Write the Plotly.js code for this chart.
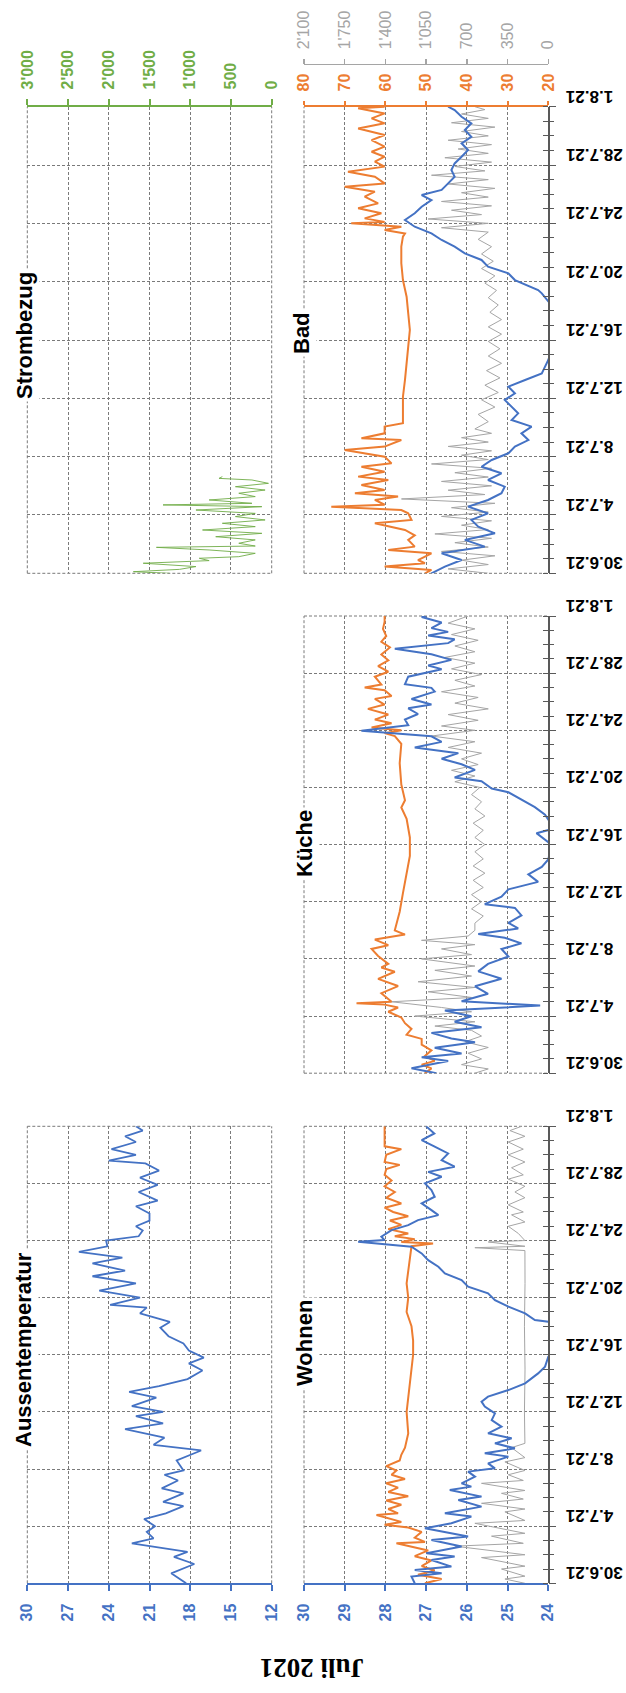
<!DOCTYPE html>
<html><head><meta charset="utf-8">
<script src="https://cdn.plot.ly/plotly-3.0.1.min.js"></script>
<style>html,body{margin:0;padding:0;background:#fff;} #chart{width:626px;height:1693px;}</style>
</head><body><div id="chart"></div>
<script>
// ---------- DATA: [day offset from 30.6.2021 00:00, value] ----------
const aussenTemp = [[0,18.3],[0.7,19.4],[1.35,17.7],[1.85,19.2],[2.2,18.2],[2.8,22.3],[3.15,20.7],[3.6,21.2],[4.0,20.6],[4.5,21.4],[4.9,19.8],[5.4,18.5],[5.7,20.0],[6.3,18.5],[6.65,20.1],[7.2,18.9],[7.6,19.9],[7.9,18.5],[8.6,19.0],[9.3,17.2],[9.7,20.7],[10.2,19.9],[10.8,22.8],[11.2,20.0],[11.7,22.0],[12.0,20.0],[12.4,22.3],[13.0,20.5],[13.4,22.5],[13.8,20.3],[14.3,18.2],[14.9,17.1],[15.4,18.1],[15.8,17.0],[16.3,18.1],[16.8,18.5],[17.3,19.6],[17.9,20.2],[18.3,19.5],[18.9,21.7],[19.3,21.2],[19.5,23.9],[20.0,21.7],[20.5,24.7],[21.0,22.0],[21.5,25.2],[21.9,22.8],[22.4,25.2],[22.8,23.0],[23.2,26.2],[23.6,24.1],[24.0,24.2],[24.3,21.8],[24.7,21.5],[25.0,22.0],[25.4,21.0],[25.9,21.0],[26.4,22.0],[26.8,20.4],[27.4,21.8],[27.9,20.4],[28.4,21.7],[28.9,20.3],[29.4,21.3],[29.6,24.0],[30.0,22.0],[30.4,23.8],[30.9,22.0],[31.3,22.8],[31.7,21.5],[32.0,22.0]];

const stromBezug = [[0,1253],[0.11,1698],[0.27,1132],[0.46,930],[0.69,1577],[0.87,768],[1.03,889],[1.14,404],[1.37,202],[1.6,768],[1.78,1415],[1.87,202],[2.06,404],[2.29,202],[2.51,687],[2.74,121],[2.97,849],[3.2,202],[3.43,606],[3.66,81],[3.89,445],[4.11,202],[4.34,930],[4.57,121],[4.69,1334],[4.8,243],[5.03,768],[5.26,202],[5.49,404],[5.71,81],[5.94,445],[6.17,40],[6.4,243],[6.51,647],[6.63,606]];

const wohnenTemp = [[0,27.28],[0.47,27.36],[0.70,26.62],[0.93,27.28],[1.17,26.38],[1.63,26.87],[1.87,26.30],[2.10,26.99],[2.57,26.13],[3.03,26.87],[3.27,25.97],[3.62,26.62],[3.85,27.03],[4.20,26.38],[4.67,25.89],[4.90,26.54],[5.37,25.64],[5.83,26.21],[6.07,25.64],[6.53,26.42],[6.77,25.89],[7.00,26.13],[7.47,25.80],[7.82,25.97],[8.05,25.31],[8.40,25.48],[8.87,24.98],[9.10,25.56],[9.45,24.82],[9.80,25.31],[10.15,24.90],[10.50,25.48],[10.97,25.15],[11.43,25.39],[11.90,25.31],[12.37,25.56],[12.72,25.64],[13.07,25.48],[13.53,24.98],[14.00,24.57],[14.70,24.25],[15.17,24.08],[15.87,24.0],[16.5,23.8],[17.5,23.7],[18.32,24.0],[18.43,24.33],[18.90,24.57],[19.37,24.98],[19.83,25.31],[20.30,25.48],[20.77,25.97],[21.23,26.13],[21.70,26.54],[22.17,26.70],[22.63,26.95],[23.10,27.11],[23.57,27.36],[23.92,28.67],[24.03,28.02],[24.27,28.10],[24.73,27.85],[25.08,27.44],[25.43,27.20],[25.78,26.70],[26.13,26.87],[26.60,27.11],[27.07,26.79],[27.53,26.87],[28.00,27.03],[28.47,26.62],[28.81,26.95],[29.17,26.30],[29.63,26.62],[30.10,26.46],[30.57,26.79],[31.03,27.11],[31.5,26.8],[32,27.0]];
const wohnenHum = [[0,50.3],[0.3,46.2],[0.6,52.0],[0.9,47.9],[1.2,51.1],[1.6,48.7],[1.9,52.8],[2.3,49.5],[2.8,57.3],[2.9,50.3],[3.2,52.8],[3.6,51.1],[3.9,54.4],[4.1,60.2],[4.3,56.1],[4.78,62.2],[4.9,56.9],[5.2,59.3],[5.5,56.1],[5.8,59.8],[6.1,54.4],[6.4,59.3],[6.7,56.9],[7.0,59.8],[7.3,55.2],[7.6,58.5],[7.9,57.3],[8.2,59.8],[8.6,56.5],[9.0,56.1],[9.5,55.2],[10,54.8],[10.5,54.4],[12,54.8],[14,54.0],[16,53.2],[17,53.2],[18,53.6],[19,54.8],[20,54.4],[21,54.8],[22,54.4],[23,54.0],[23.6,53.6],[23.8,48.3],[23.9,56.1],[24.1,52.8],[24.3,57.7],[24.5,54.4],[24.8,59.3],[25.1,56.1],[25.4,58.9],[25.7,54.4],[26.0,58.1],[26.3,60.2],[26.6,56.1],[27.0,59.8],[27.4,57.7],[27.8,60.2],[28.2,58.5],[28.6,60.2],[29.0,59.8],[29.3,56.5],[29.5,60.2],[30.0,59.8],[30.4,56.1],[30.6,60.2],[31,60.2],[31.5,60.2],[32,60.2]];
const wohnenCO2 = [[0,201],[0.3,373],[0.5,201],[1.0,402],[1.2,201],[1.8,574],[2.0,201],[2.6,803],[2.8,215],[3.3,488],[3.5,201],[4.2,631],[4.4,201],[5.0,373],[5.2,201],[5.6,574],[5.9,215],[6.3,402],[6.5,201],[7.0,574],[7.2,215],[7.6,344],[7.9,201],[8.5,373],[8.8,201],[9.5,316],[9.8,201],[12,205],[15,200],[18,205],[21,200],[23.3,201],[23.5,631],[23.6,201],[23.9,516],[24.0,201],[24.5,258],[25,344],[25.3,201],[25.8,316],[26,215],[26.5,344],[27,201],[27.4,287],[27.8,201],[28.3,344],[28.6,215],[29.1,316],[29.5,201],[30,344],[30.4,215],[30.9,344],[31.3,201],[31.7,330],[32,230]];

const kuecheTemp = [[0,26.75],[0.34,27.36],[0.86,26.46],[1.12,27.11],[1.38,26.13],[1.78,26.79],[2.17,25.80],[2.43,26.38],[2.82,26.87],[3.21,25.64],[3.60,26.30],[3.99,25.89],[4.39,26.54],[4.73,24.20],[5.04,26.13],[5.56,25.48],[6.08,25.80],[6.61,25.15],[7.13,25.72],[7.65,25.48],[8.17,24.98],[8.69,25.15],[9.09,24.66],[9.48,25.07],[9.74,25.72],[10.13,24.74],[10.52,24.98],[11.04,24.66],[11.57,24.82],[11.83,25.56],[12.35,25.15],[12.87,24.98],[13.39,24.25],[13.92,24.49],[14.44,24.16],[14.96,24.0],[15.48,23.96],[16.0,23.92],[16.8,24.29],[17.05,23.96],[17.57,23.96],[18.09,24.08],[18.62,24.33],[19.14,24.66],[19.66,24.98],[19.92,25.39],[20.44,25.64],[20.70,26.30],[21.23,25.80],[21.62,26.13],[22.01,26.62],[22.40,26.21],[22.79,27.28],[23.19,26.62],[23.58,26.87],[23.97,28.59],[24.36,27.44],[24.75,27.52],[25.14,27.20],[25.54,27.44],[25.80,26.87],[26.19,27.36],[26.71,26.79],[26.97,26.87],[27.23,27.52],[27.75,27.44],[28.28,26.62],[28.54,26.95],[28.93,26.38],[29.32,26.87],[29.71,27.77],[30.10,26.46],[30.37,26.30],[30.63,26.95],[30.89,26.46],[31.15,26.87],[31.54,26.62],[31.93,27.11],[32,27.0]];
const kuecheHum = [[0,50.3],[0.34,48.7],[0.6,51.1],[0.86,47.9],[1.2,50.3],[1.6,48.7],[2.0,51.1],[2.4,51.1],[2.7,54.8],[3.1,53.6],[3.5,55.2],[3.9,56.1],[4.3,59.3],[4.6,56.9],[4.8,60.2],[4.9,67.1],[5.0,58.5],[5.6,61.0],[6.1,56.9],[6.6,61.8],[7.1,57.7],[7.4,61.0],[7.65,59.3],[8.2,61.8],[8.7,63.4],[8.96,59.3],[9.35,62.6],[9.7,55.2],[10.0,57.7],[11.3,56.5],[12.6,55.7],[13.9,54.8],[15.2,54.0],[16.5,54.0],[17.05,54.4],[17.8,54.8],[18.6,56.1],[19.1,55.2],[20.2,56.1],[21.7,56.5],[23.05,56.1],[23.6,57.7],[23.8,60.2],[24.0,56.1],[24.2,63.4],[24.5,58.5],[24.75,62.6],[25.1,59.3],[25.5,64.3],[25.8,60.2],[26.2,62.6],[26.4,58.5],[26.8,60.2],[27.0,65.1],[27.2,61.0],[27.75,62.6],[28.1,59.3],[28.5,61.8],[28.9,59.3],[29.3,61.0],[29.8,58.9],[30.2,61.0],[30.6,59.8],[31.1,60.6],[31.6,60.2],[32,60.2]];
const kuecheCO2 = [[0,631],[0.3,516],[0.6,746],[1.0,574],[1.4,689],[1.8,516],[2.2,717],[2.6,574],[3.0,660],[3.3,975],[3.6,631],[4.0,1148],[4.3,660],[4.6,918],[5.0,1348],[5.3,660],[5.7,1033],[6.0,631],[6.4,1119],[6.8,660],[7.2,975],[7.5,631],[8.0,1090],[8.3,660],[8.7,918],[9.0,631],[9.3,1090],[9.6,689],[10.0,631],[10.5,631],[11,559],[11.5,660],[12,574],[12.5,660],[13,559],[13.5,646],[14,545],[14.5,646],[15,559],[15.5,631],[16,545],[16.5,631],[17,559],[17.5,646],[18,545],[18.5,631],[19,574],[19.5,660],[20,588],[20.4,803],[20.8,631],[21.2,832],[21.6,603],[22,746],[22.4,574],[22.8,861],[23.2,631],[23.6,1004],[24.0,631],[24.3,918],[24.7,603],[25.1,861],[25.5,516],[25.9,803],[26.3,603],[26.7,918],[27.1,631],[27.5,803],[27.9,574],[28.3,832],[28.7,631],[29.1,889],[29.5,631],[29.9,803],[30.3,603],[30.7,832],[31.1,631],[31.5,861],[32,689]];

const badTemp = [[0,26.87],[0.46,26.54],[0.91,26.13],[1.37,26.62],[1.83,25.56],[2.29,26.05],[2.74,25.31],[3.2,25.72],[3.66,25.89],[4.11,25.48],[4.57,25.97],[5.03,25.48],[5.49,25.15],[5.94,25.07],[6.4,25.48],[6.86,25.15],[7.31,25.64],[7.77,25.39],[8.23,24.98],[8.69,24.82],[9.14,24.49],[9.6,24.66],[10.06,24.41],[10.51,24.90],[10.97,24.74],[11.43,24.90],[11.89,25.07],[12.34,24.82],[12.8,24.98],[13.26,24.57],[13.71,24.16],[14.17,24.08],[14.63,24.0],[15.5,23.9],[17.0,23.8],[18.3,23.9],[19.2,24.16],[19.43,24.25],[20.11,24.82],[20.57,24.98],[21.03,25.48],[21.49,25.64],[21.94,26.05],[22.4,26.30],[22.86,26.62],[23.31,26.87],[23.77,27.28],[24.23,27.52],[24.69,27.28],[25.14,27.11],[25.6,26.87],[25.94,27.11],[26.29,26.62],[26.74,26.46],[27.2,26.30],[27.66,26.38],[28.11,26.30],[28.57,26.13],[29.03,25.97],[29.49,26.13],[29.94,25.89],[30.4,26.05],[30.86,25.89],[31.31,26.13],[31.77,26.30],[32,26.46]];
const badHum = [[0,50.3],[0.23,48.7],[0.46,60.2],[0.69,50.3],[0.91,52.0],[1.37,48.7],[1.6,59.3],[1.83,52.8],[2.29,54.4],[2.6,52.8],[2.97,55.2],[3.43,62.6],[3.66,53.6],[4.11,54.4],[4.34,56.1],[4.57,73.3],[4.7,60.2],[5.03,62.6],[5.26,56.9],[5.49,67.5],[5.71,60.2],[6.06,65.9],[6.4,59.3],[6.63,66.7],[6.97,60.2],[7.31,65.9],[7.54,58.5],[8.0,60.2],[8.46,70.0],[8.69,60.2],[9.14,56.1],[9.26,65.9],[9.6,60.2],[10.06,60.2],[10.29,55.7],[10.97,55.7],[12.11,55.7],[13.26,55.2],[14.4,54.8],[15.54,54.4],[16.69,54.0],[17.83,54.4],[18.97,54.8],[20.11,55.7],[21.26,56.1],[22.4,56.1],[23.09,55.7],[23.31,55.2],[23.54,60.2],[23.77,56.1],[24.0,68.4],[24.1,60.2],[24.34,65.1],[24.69,61.0],[25.03,66.7],[25.37,61.8],[25.83,65.1],[26.17,62.6],[26.51,70.0],[26.74,60.2],[27.2,62.6],[27.54,69.2],[27.89,60.2],[28.23,62.6],[28.57,60.2],[28.91,63.4],[29.26,60.2],[29.71,63.4],[30.06,60.2],[30.51,66.7],[30.86,60.2],[31.2,63.4],[31.54,60.2],[31.89,66.7],[32,60.2]];
const badCO2 = [[0,516],[0.3,861],[0.6,516],[0.9,746],[1.2,459],[1.5,918],[1.8,516],[2.1,803],[2.4,488],[2.7,975],[3.0,516],[3.3,746],[3.6,488],[3.9,918],[4.2,516],[4.5,832],[4.8,459],[5.1,1262],[5.4,545],[5.7,861],[6.0,488],[6.3,918],[6.6,516],[6.9,803],[7.2,488],[7.5,1004],[7.8,516],[8.1,746],[8.4,488],[8.7,861],[9.0,516],[9.3,746],[9.6,488],[9.9,631],[10.4,516],[10.9,603],[11.4,459],[11.9,574],[12.4,430],[12.9,545],[13.4,416],[13.9,531],[14.4,402],[14.9,516],[15.4,416],[15.9,516],[16.4,402],[16.9,516],[17.4,402],[17.9,502],[18.4,430],[18.9,516],[19.4,445],[19.9,545],[20.4,459],[20.9,574],[21.4,473],[21.9,574],[22.4,488],[22.9,603],[23.4,516],[23.7,918],[24.0,516],[24.3,1033],[24.6,574],[24.9,832],[25.2,488],[25.5,918],[25.8,516],[26.1,746],[26.4,459],[26.7,861],[27.0,516],[27.3,1004],[27.6,545],[27.9,803],[28.2,488],[28.5,889],[28.8,516],[29.1,775],[29.4,488],[29.7,861],[30.0,516],[30.3,746],[30.6,459],[30.9,832],[31.2,516],[31.5,746],[31.8,545],[32,631]];

const panelTitles = ['Aussentemperatur','Wohnen','Küche','Strombezug','Bad'];
const mainTitle = 'Juli 2021';

// ---------- STYLE / GEOMETRY ----------
const BLUE='#4472C4', ORANGE='#ED7D31', GRAY='#A5A5A5', GREEN='#70AD47';
const GRID='#7a7a7a', DASH='3px,2px', AX='#595959';
const FONT='"Liberation Sans", Arial, sans-serif';
const T0=Date.UTC(2021,5,30), DAY=86400000;
const D0='2021-06-30', D1='2021-08-01';
const W=626, H=1693;
const px=v=>v/W, py=v=>1-v/H;
const colL=[px(27.3),px(271.7)], colR=[px(304),px(548.3)];
const rowTop=[py(573.3),py(106.7)], rowMid=[py(1073.2),py(616)], rowBot=[py(1583.3),py(1126.3)];

function line(pairs, xa, ya, color, width){
  return {type:'scatter', mode:'lines', x:pairs.map(p=>p[1]), y:pairs.map(p=>T0+p[0]*DAY),
    xaxis:xa, yaxis:ya, line:{color:color, width:width}, hoverinfo:'skip'};
}
function dummy(xa, ya){ return {type:'scatter', mode:'lines', x:[null], y:[null], xaxis:xa, yaxis:ya, hoverinfo:'skip'}; }

const traces = [
  line(aussenTemp,'x','y',BLUE,1.8),
  line(wohnenCO2,'x2','y2',GRAY,1), line(wohnenHum,'x3','y2',ORANGE,2), line(wohnenTemp,'x4','y2',BLUE,2),
  line(kuecheCO2,'x5','y4',GRAY,1), line(kuecheHum,'x6','y4',ORANGE,2), line(kuecheTemp,'x7','y4',BLUE,2),
  line(stromBezug,'x8','y6',GREEN,0.9),
  line(badHum,'x9','y7',ORANGE,2), line(badCO2,'x10','y7',GRAY,1), line(badTemp,'x11','y7',BLUE,2),
  dummy('x2','y3'), dummy('x5','y5'), dummy('x9','y8')
];

function bold(c,s){ return {family:FONT, size:s||16, color:c, weight:'bold'}; }
function merge(){ const o={}; for(let i=0;i<arguments.length;i++){ const a=arguments[i]; if(a) for(const k in a) o[k]=a[k]; } return o; }
const base = {showgrid:false, zeroline:false, fixedrange:true, ticks:'', showticklabels:false, showline:false, separatethousands:true};
const gridOn = {showgrid:true, gridcolor:GRID, griddash:DASH, gridwidth:1};
function visAxis(color, side, o){ return merge({side:side, showline:true, linecolor:color, linewidth:2,
  ticks:'outside', ticklen:6, tickwidth:2, tickcolor:color, showticklabels:true, tickangle:-90,
  tickfont:bold(color), ticklabelstandoff:6}, o); }

const dateBase = {type:'date', range:[D0,D1], tick0:D0, dtick:4*DAY, tickformat:'%-d.%-m.%y',
  showgrid:true, gridcolor:GRID, griddash:DASH, gridwidth:1, zeroline:false, showline:false, ticks:'',
  showticklabels:false, fixedrange:true};
function dateMain(domain){
  return merge(dateBase, {domain:domain, anchor:'free', position:px(548.3), side:'left', showline:true, linecolor:AX, linewidth:1.3,
    ticks:'outside', ticklen:5, tickcolor:AX, tickwidth:1,
    minor:{dtick:DAY, tick0:D0, ticks:'outside', ticklen:5, tickcolor:AX, tickwidth:1, showgrid:false},
    showticklabels:true, tickangle:180, tickfont:bold('#000',17), ticklabelstandoff:-26, ticklabelshift:-5});
}
function dateOver(baseAx, xa){
  return merge(dateBase, {overlaying:baseAx, anchor:xa, side:'right', showgrid:false, ticks:'outside', ticklen:7, tickcolor:AX, tickwidth:1,
    minor:{dtick:DAY, tick0:D0, ticks:'outside', ticklen:5, tickcolor:AX, tickwidth:1, showgrid:false}});
}

const layout = {
  width:W, height:H, margin:{l:0,r:0,t:0,b:0}, paper_bgcolor:'#fff', plot_bgcolor:'rgba(0,0,0,0)',
  showlegend:false, hovermode:false, dragmode:false, separators:".'", font:{family:FONT, size:16},
  xaxis: merge(base, {domain:colL, anchor:'y', range:[30,12], tick0:12, dtick:3}, gridOn, visAxis(BLUE,'bottom')),
  yaxis: merge(dateBase, {domain:rowBot, anchor:'x'}),
  xaxis2: merge(base, {domain:colR, anchor:'y2', range:[2100,0], tick0:0, dtick:350}, gridOn),
  xaxis3: merge(base, {overlaying:'x2', anchor:'y2', range:[80,20], visible:false}),
  xaxis4: merge(base, {overlaying:'x2', anchor:'y2', range:[30,24], tick0:24, dtick:1}, visAxis(BLUE,'bottom')),
  yaxis2: dateMain(rowBot),
  yaxis3: dateOver('y2','x2'),
  xaxis5: merge(base, {domain:colR, anchor:'y4', range:[2100,0], tick0:0, dtick:350}, gridOn),
  xaxis6: merge(base, {overlaying:'x5', anchor:'y4', range:[80,20], visible:false}),
  xaxis7: merge(base, {overlaying:'x5', anchor:'y4', range:[30,24], visible:false}),
  yaxis4: dateMain(rowMid),
  yaxis5: dateOver('y4','x5'),
  xaxis8: merge(base, {domain:colL, anchor:'y6', range:[3000,0], tick0:0, dtick:500}, gridOn, visAxis(GREEN,'top')),
  yaxis6: merge(dateBase, {domain:rowTop, anchor:'x8'}),
  xaxis9: merge(base, {domain:colR, anchor:'y7', range:[80,20], tick0:20, dtick:10}, gridOn, visAxis(ORANGE,'top',{ticklen:4})),
  xaxis10: merge(base, {overlaying:'x9', anchor:'free', position:py(63.5), range:[2100,0], tick0:0, dtick:350},
    visAxis(GRAY,'top',{linewidth:1.5, ticklen:5, tickwidth:1.5, tickfont:{family:FONT, size:16, color:GRAY}})),
  xaxis11: merge(base, {overlaying:'x9', anchor:'y7', range:[30,24], visible:false}),
  yaxis7: dateMain(rowTop),
  yaxis8: dateOver('y7','x9'),
  annotations: [],
  shapes: []
};

const titlePos = [[23,1350],[304,1343],[304,844],[24,336],[302,333]];
panelTitles.forEach((t,i)=>{
  layout.annotations.push({text:t, xref:'paper', yref:'paper', x:px(titlePos[i][0]), y:py(titlePos[i][1]),
    xanchor:'center', yanchor:'middle', showarrow:false, textangle:-90, bgcolor:'#fff', borderpad:2,
    font:{family:FONT, size:22, color:'#000', weight:'bold'}});
});
layout.annotations.push({text:mainTitle, xref:'paper', yref:'paper', x:px(312.5), y:py(1668), xanchor:'center', yanchor:'middle',
  showarrow:false, textangle:180, font:{family:'"Liberation Serif", "Times New Roman", serif', size:27, color:'#000', weight:'bold'}});

function border(xa, ya, s){
  return {type:'line', xref:xa+' domain', yref:ya+' domain', x0:s[0], y0:s[1], x1:s[2], y1:s[3], layer:'below',
    line:{color:GRID, width:1, dash:DASH}};
}
const L=[0,0,0,1], R=[1,0,1,1], T=[0,1,1,1], B=[0,0,1,0];
[['x','y',[L,R,T]],['x2','y2',[L,T]],['x5','y4',[L,T,B]],['x8','y6',[L,R,B]],['x9','y7',[L,B]]].forEach(p=>{
  p[2].forEach(s=>layout.shapes.push(border(p[0],p[1],s)));
});

Plotly.newPlot('chart', traces, layout, {staticPlot:true, displayModeBar:false});
</script></body></html>
